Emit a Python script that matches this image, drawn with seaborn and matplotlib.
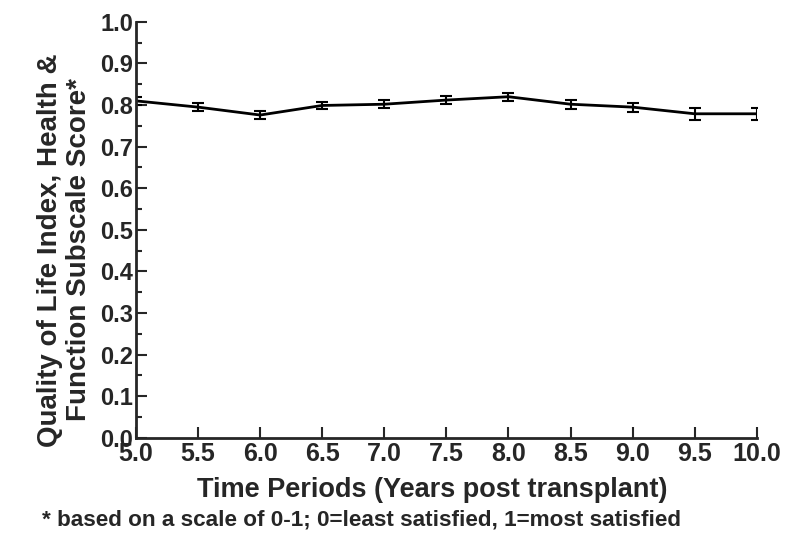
import numpy as np
import pandas as pd
import matplotlib
matplotlib.use("Agg")
import matplotlib.pyplot as plt
import seaborn as sns
from matplotlib.ticker import MultipleLocator, FormatStrFormatter

# === Data ===
years = [5.0, 5.5, 6.0, 6.5, 7.0, 7.5, 8.0, 8.5, 9.0, 9.5, 10.0]
score = [0.810, 0.795, 0.776, 0.799, 0.802, 0.812, 0.820, 0.802, 0.795, 0.779, 0.779]
sem = [0.010, 0.009, 0.009, 0.009, 0.009, 0.010, 0.010, 0.011, 0.011, 0.015, 0.015]

df = pd.DataFrame({"year": years, "score": score, "sem": sem})

sns.set_style("ticks")
plt.rcParams['font.family'] = ['Liberation Sans', 'DejaVu Sans']
plt.rcParams['font.weight'] = 'bold'

fig = plt.figure(figsize=(8, 5.46), dpi=100)
ax = fig.add_axes([0.17, 0.198, 0.776, 0.762])

# === Line + error bars ===
sns.lineplot(data=df, x="year", y="score", color="black", linewidth=2, ax=ax)
ax.errorbar(df["year"], df["score"], yerr=df["sem"], fmt="none",
            ecolor="black", elinewidth=1.5, capsize=4, capthick=1.5)

# === Axes ===
ax.set_xlim(5.0, 10.0)
ax.set_ylim(0.0, 1.0)
ax.xaxis.set_major_locator(MultipleLocator(0.5))
ax.yaxis.set_major_locator(MultipleLocator(0.1))
ax.yaxis.set_minor_locator(MultipleLocator(0.05))
ax.tick_params(axis="both", which="major", direction="in", length=8, width=1.5, pad=2)
ax.tick_params(axis="x", labelsize=18, pad=3)
ax.tick_params(axis="y", labelsize=17)
ax.tick_params(axis="y", which="minor", direction="in", length=4, width=1.5)
ax.xaxis.set_major_formatter(FormatStrFormatter("%.1f"))
ax.yaxis.set_major_formatter(FormatStrFormatter("%.1f"))
for lab in ax.get_xticklabels() + ax.get_yticklabels():
    lab.set_fontweight("bold")

sns.despine(ax=ax)
for s in ["left", "bottom"]:
    ax.spines[s].set_linewidth(2)

ax.set_xlabel("Time Periods (Years post transplant)", fontsize=19.5, fontweight="bold")
ax.set_ylabel("Quality of Life Index, Health &\nFunction Subscale Score*", fontsize=20,
              fontweight="bold", linespacing=1.15)
ax.xaxis.set_label_coords(0.477, -0.094)
ax.yaxis.set_label_coords(-0.071, 0.452)

fig.text(0.053, 0.048, "* based on a scale of 0-1; 0=least satisfied, 1=most satisfied",
         fontsize=16.2, fontweight="bold", ha="left", va="center")

fig.savefig("out.png", dpi=100)
